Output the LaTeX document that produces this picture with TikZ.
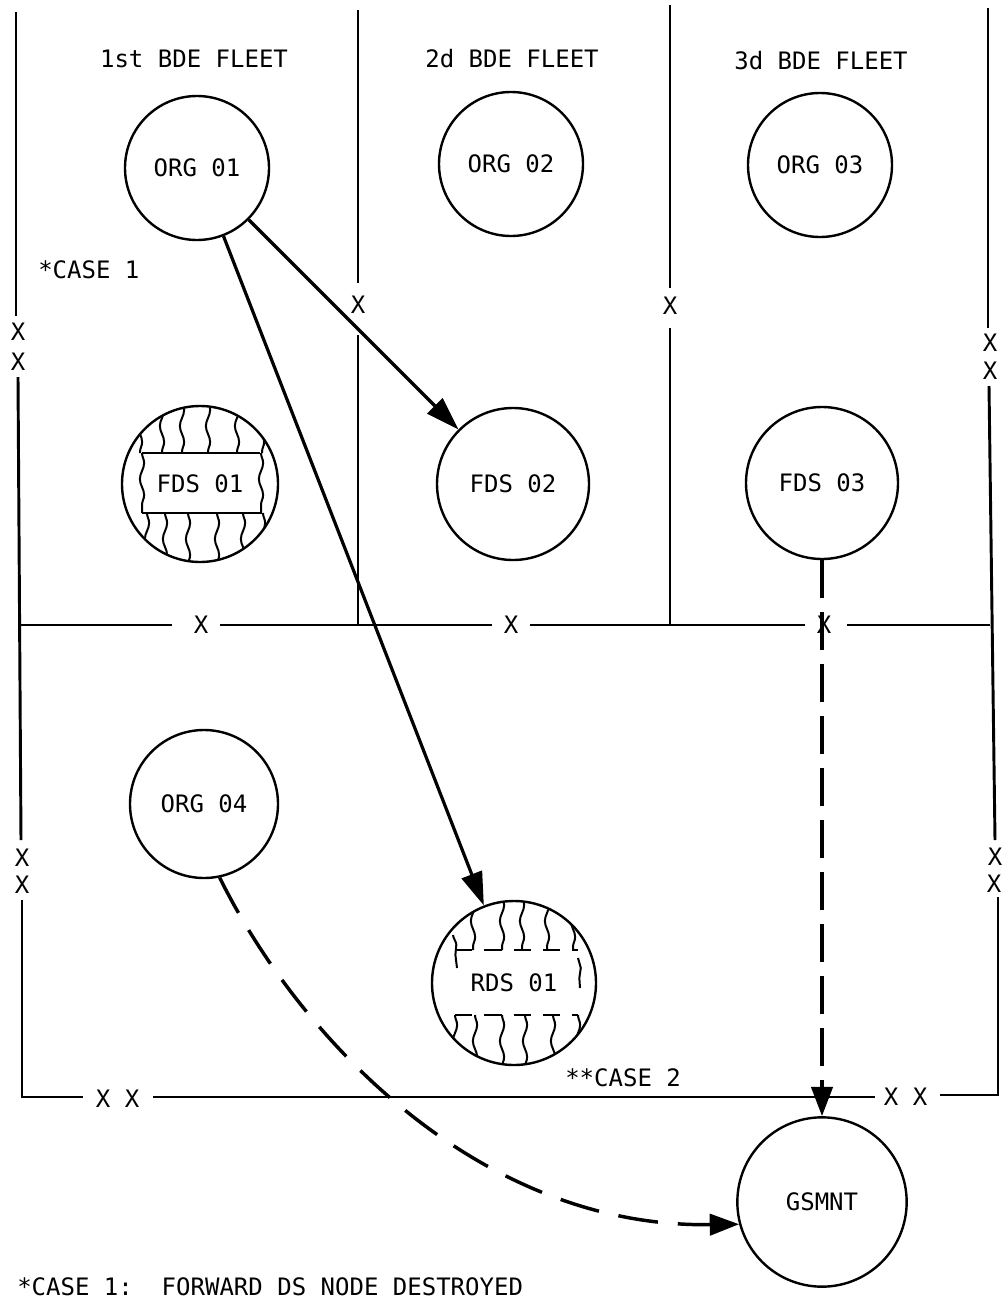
\documentclass[tikz,border=0pt]{standalone}
\usepackage{fontspec}
\setmonofont{DejaVu Sans Mono}
\usetikzlibrary{arrows.meta,decorations.pathmorphing}
\begin{document}
\begin{tikzpicture}[x=0.75pt,y=-0.75pt,
  every node/.style={font=\ttfamily\fontsize{18}{20}\selectfont},
  lbl/.style={inner sep=0pt, text height=13pt, text depth=0pt},
  frame/.style={line width=2.2pt},
  unit/.style={circle, draw, line width=1.8pt, inner sep=0pt, text height=13pt, text depth=0pt},
  arr/.style={line width=2.4pt, -{Triangle[length=25pt,width=16pt]}},
  darr/.style={line width=2.6pt, dash pattern=on 28pt off 11pt, -{Triangle[length=22pt,width=16pt]}},
  carr/.style={line width=2.6pt, dash pattern=on 30pt off 15pt, -{Triangle[length=22pt,width=16pt]}},
  wav/.style={line width=1.5pt, decorate, decoration={snake, amplitude=1.6pt, segment length=24pt}},
  band/.style={line width=1.8pt},
]
\useasboundingbox (0,0) rectangle (1002,1299);
\fill[white] (0,0) rectangle (1002,1299);

% left outer line
\draw[frame] (16,12) -- (16,316);
\node[lbl] (xl1) at (18,332) {X};
\node[lbl] (xl2) at (18,362) {X};
\draw[frame] (18,377) -- (21,840);
\node[lbl] (xl3) at (22,858) {X};
\node[lbl] (xl4) at (22,885) {X};
\draw[frame] (22,900) -- (22,1097) -- (83,1097);
% bottom line
\node[lbl] (xb1) at (103,1099) {X};
\node[lbl] (xb2) at (132,1099) {X};
\draw[frame] (153,1097) -- (875,1097);
\node[lbl] (xb3) at (891,1097) {X};
\node[lbl] (xb4) at (920,1097) {X};
\draw[frame] (940,1095) -- (998,1095) -- (998,897);
% right outer line
\node[lbl] (xr4) at (994,884) {X};
\node[lbl] (xr3) at (995,857) {X};
\draw[frame] (995,840) -- (989,386);
\node[lbl] (xr2) at (990,371) {X};
\node[lbl] (xr1) at (990,343) {X};
\draw[frame] (988,328) -- (988,8);
% middle horizontal line
\draw[frame] (19,625) -- (172,625);
\node[lbl] (xm1) at (201,625) {X};
\draw[frame] (220,625) -- (492,625);
\node[lbl] (xm2) at (511,625) {X};
\draw[frame] (530,625) -- (805,625);
\node[lbl] (xm3) at (824,625) {X};
\draw[frame] (847,625) -- (990,625);
% dividers
\draw[frame] (358,10) -- (358,283);
\node[lbl] (xd1) at (358,305) {X};
\draw[frame] (358,335) -- (358,625);
\draw[frame] (670,5) -- (670,288);
\node[lbl] (xd2) at (670,306) {X};
\draw[frame] (670,328) -- (670,625);

% headings
\node[lbl] (t1) at (194,59) {1st BDE FLEET};
\node[lbl] (t2) at (512,59) {2d BDE FLEET};
\node[lbl] (t3) at (821,61) {3d BDE FLEET};
\node[lbl, anchor=west] (c1) at (38,270) {*CASE 1};
\node[lbl, anchor=west] (c2) at (565,1078) {**CASE 2};
\node[lbl, anchor=base west] (note) at (17,1295) {*CASE 1:\ \ FORWARD DS NODE DESTROYED};

% nodes
\node[unit, minimum size=108pt] (org1) at (197,168) {ORG 01};
\node[unit, minimum size=108pt] (org2) at (511,164) {ORG 02};
\node[unit, minimum size=108pt] (org3) at (820,165) {ORG 03};
\node[unit, minimum size=117pt] (fds1) at (200,484) {FDS 01};
\node[unit, minimum size=114pt] (fds2) at (513,484) {FDS 02};
\node[unit, minimum size=114pt] (fds3) at (822,483) {FDS 03};
\node[unit, minimum size=111pt] (org4) at (204,804) {ORG 04};
\node[unit, minimum size=123pt] (rds1) at (514,983) {RDS 01};
\node[unit, minimum size=127pt] (gsmnt) at (822,1202) {GSMNT};

% hatching FDS 01
\begin{scope}
\clip (fds1.center) circle [radius=77];
\foreach \x in {140,162,182,208,237,262} \draw[wav] (\x,400) -- (\x,453);
\foreach \x in {147,165,188,217,243,263} \draw[wav] (\x,513) -- (\x,570);
\end{scope}
\draw[band] (142,453) -- (260,453);
\draw[band] (142,513) -- (262,513);
\draw[wav] (142,453) -- (142,513);
\draw[wav] (261,453) -- (261,513);

% hatching RDS 01
\begin{scope}
\clip (rds1.center) circle [radius=81];
\foreach \x in {473,502,522,547,573} \draw[wav] (\x,895) -- (\x,950);
\foreach \x in {455,475,502,525,553,578} \draw[wav] (\x,1015) -- (\x,1070);
\draw[wav] (453,935) -- (457,968);
\draw[wav] (578,958) -- (580,988);
\end{scope}
\draw[band, dash pattern=on 13pt off 9pt] (455,950) -- (578,950);
\draw[band, dash pattern=on 13pt off 9pt] (455,1015) -- (578,1015);

% connectors
\draw[arr] (org1) -- (fds2);
\draw[arr] (org1) -- (rds1);
\draw[darr] (fds3) -- (gsmnt);
\draw[carr] (org4.-78) .. controls (300,1040) and (480,1228) .. (gsmnt.195);
\end{tikzpicture}
\end{document}
